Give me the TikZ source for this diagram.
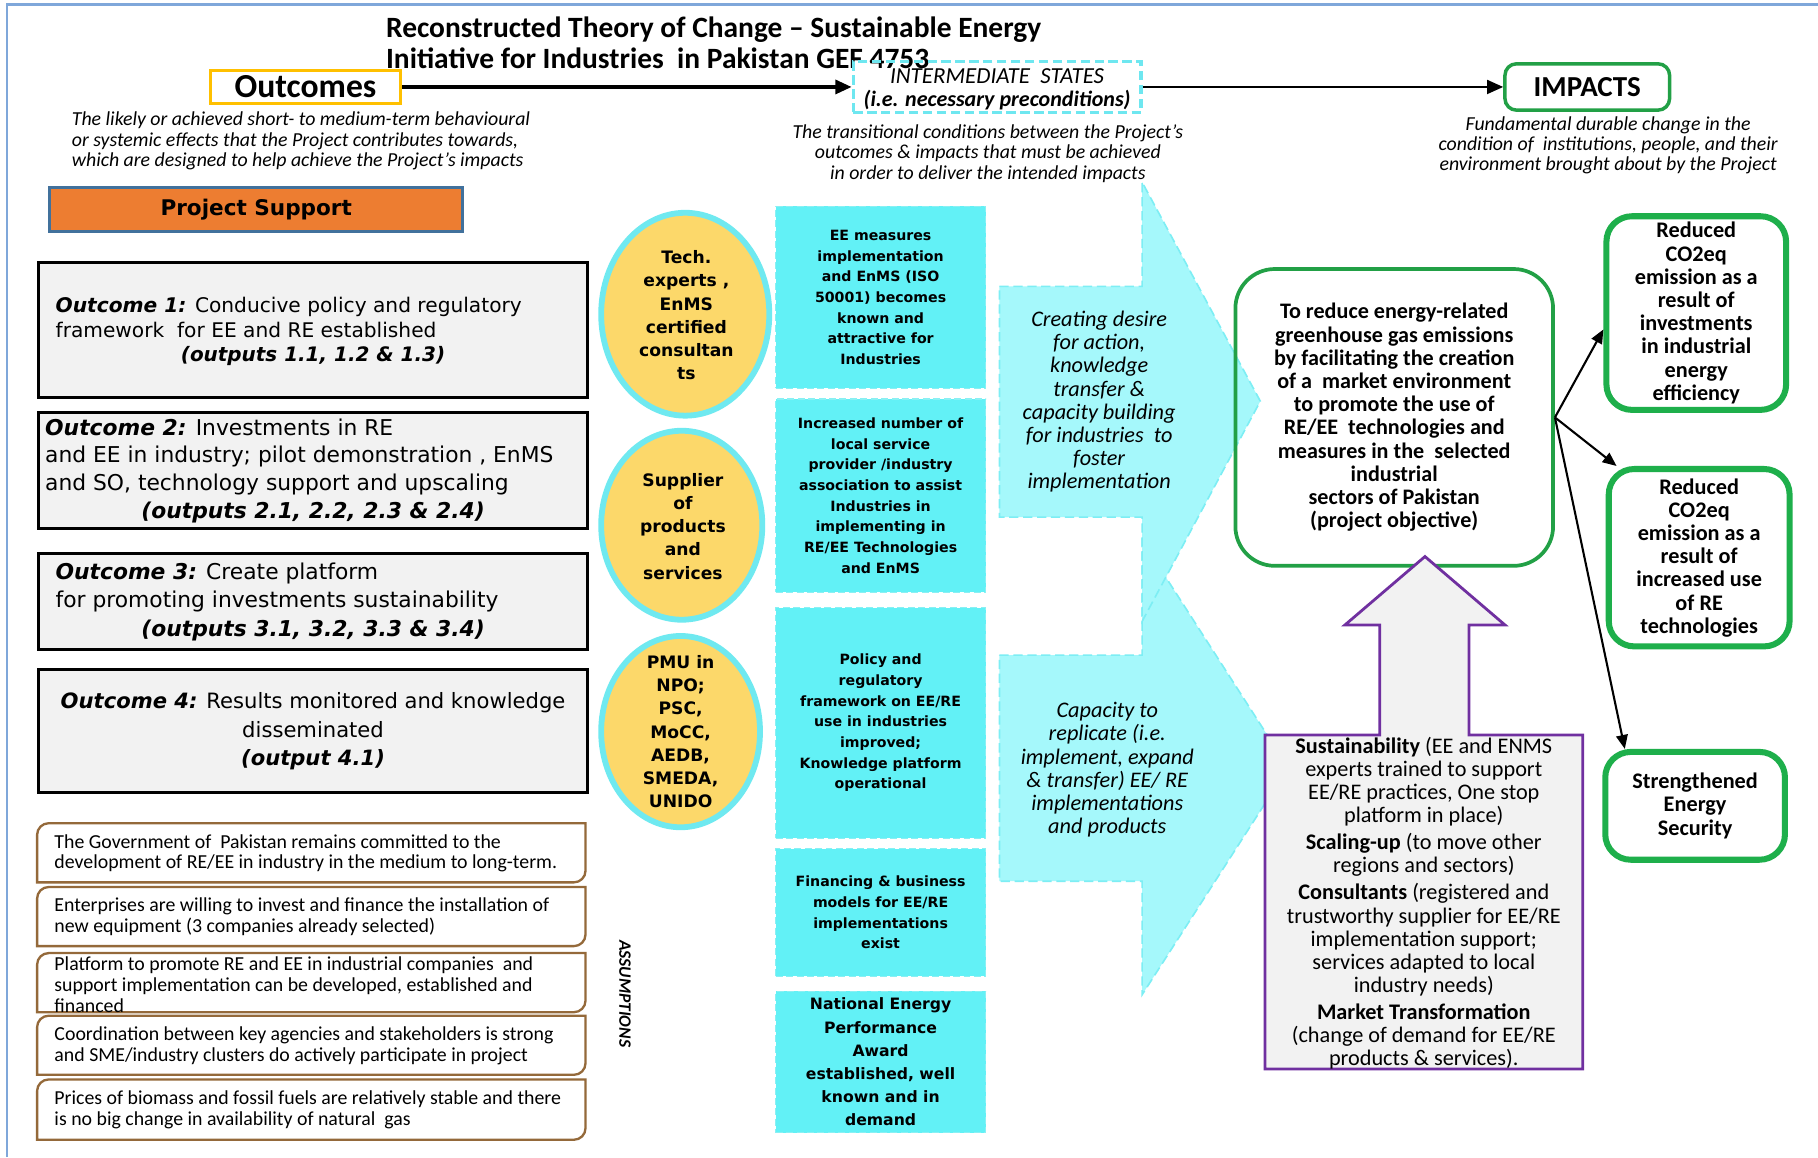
\documentclass[tikz,border=0pt]{standalone}
\usepackage{fontspec}
\setmainfont{Carlito}
\newfontfamily\dv{DejaVu Sans}
\usetikzlibrary{arrows.meta,shapes.geometric}
\definecolor{frameblue}{HTML}{7FA7DA}
\definecolor{outyellow}{HTML}{FFC000}
\definecolor{intcyan}{HTML}{6EE7F0}
\definecolor{green1}{HTML}{22A046}
\definecolor{green2}{HTML}{1EAF4B}
\definecolor{psorange}{HTML}{ED7D31}
\definecolor{psborder}{HTML}{41719C}
\definecolor{boxgray}{HTML}{F2F2F2}
\definecolor{asbrown}{HTML}{94693A}
\definecolor{circyellow}{HTML}{FCD86A}
\definecolor{circcyan}{HTML}{6FE9F0}
\definecolor{cfill}{HTML}{62F1F6}
\definecolor{cbord}{HTML}{8AF0F3}
\definecolor{arrfill}{HTML}{A5F8FB}
\definecolor{arrbord}{HTML}{7DEEF4}
\definecolor{purp}{HTML}{7030A0}
\newcommand\myfs[2]{\fontsize{#1}{#2}\selectfont}
\newcommand\asbox[2]{\draw[asm] (32,#1+10) arc[start angle=180,end angle=270,radius=10] -- (505,#1) -- (505,#2-10) arc[start angle=0,end angle=90,radius=10] -- (32,#2) -- cycle;}
\begin{document}
\begin{tikzpicture}[x=0.5pt,y=-0.5pt,
  txt/.style={inner sep=0pt,outer sep=0pt,align=center},
  desc/.style={txt,font=\itshape\myfs{8.55}{8.75}},
  obox/.style={draw=black,fill=boxgray,line width=1.3pt,minimum width=237pt,inner sep=0pt},
  otext/.style={txt,font=\dv\myfs{9.4}{12}},
  asm/.style={draw=asbrown,line width=1pt,fill=white},
  atext/.style={txt,align=left,anchor=west,font=\myfs{8.55}{9}},
  circ/.style={ellipse,draw=circcyan,line width=2.5pt,fill=circyellow,inner sep=0pt},
  ctext/.style={txt,font=\dv\bfseries\myfs{7.4}{10}},
  cbox/.style={draw=cbord,dashed,dash pattern=on 3pt off 1.5pt,fill=cfill,line width=0.6pt,minimum width=90.5pt,inner sep=0pt,align=center,font=\dv\bfseries\myfs{6.1}{8.9}},
  barrow/.style={fill=arrfill,draw=arrbord,dashed,dash pattern=on 4pt off 2pt,line width=0.7pt},
  arrtxt/.style={txt,font=\itshape\myfs{9.6}{10}},
  ibox/.style={draw=green2,line width=2.6pt,rounded corners=11pt,fill=white,inner sep=0pt,align=center,font=\bfseries\myfs{9.6}{10}},
  conn/.style={line width=0.9pt,-{Triangle[length=6pt,width=5pt]}}
]
\useasboundingbox (0,0) rectangle (1568,998);
\fill[white] (0,0) rectangle (1568,998);
\draw[frameblue,line width=1pt] (6,998) -- (6,4) -- (1568,4);

% title
\node[txt,anchor=base west,font=\bfseries\myfs{12.7}{14}] (t1) at (333,32) {Reconstructed Theory of Change – Sustainable Energy};
\node[txt,anchor=base west,font=\bfseries\myfs{12.7}{14}] (t2) at (333,59) {Initiative for Industries\ \ in Pakistan GEF 4753};

% header boxes
\node[draw=outyellow,line width=1.3pt,minimum width=82pt,minimum height=14pt,inner sep=0pt,font=\bfseries\myfs{14.5}{16}] (outc) at (263.5,75) {Outcomes};
\node[draw=intcyan,dashed,dash pattern=on 4pt off 2pt,line width=1.5pt,minimum width=124pt,minimum height=22pt,inner sep=0pt] (inter) at (860,75) {};
\node[txt,font=\itshape\myfs{9.5}{10}] (intert) at (860,77) {{\myfs{9.9}{10}INTERMEDIATE\ \ STATES}\\{\bfseries (i.e. necessary preconditions)}};
\node[draw=green1,line width=1.5pt,rounded corners=5pt,minimum width=71pt,minimum height=20pt,inner sep=0pt,font=\bfseries\myfs{12.5}{14}] (imp) at (1369,75) {IMPACTS};
\draw[line width=1.5pt,-{Triangle[length=7pt,width=6pt]}] (outc) -- (inter);
\draw[line width=1pt,-{Triangle[length=7pt,width=6pt]}] (inter) -- (imp);

\node[desc,anchor=west,align=left] (d1) at (62,121.5) {The likely or achieved short- to medium-term behavioural\\or systemic effects that the Project contributes towards,\\which are designed to help achieve the Project’s impacts};
\node[desc] (d2) at (852,132.5) {The transitional conditions between the Project’s\\outcomes \& impacts that must be achieved\\in order to deliver the intended impacts};
\node[desc] (d3) at (1387,125.5) {Fundamental durable change in the\\condition of\ \ institutions, people, and their\\environment brought about by the Project};

% project support
\node[draw=psborder,fill=psorange,line width=1.2pt,minimum width=178pt,minimum height=19pt,inner sep=0pt,font=\dv\bfseries\myfs{9.3}{11}] (ps) at (221,180.5) {Project Support};

% outcome boxes
\node[obox,minimum height=58.5pt] (o1) at (270,284.5) {};
\node[otext,anchor=west,align=left,font=\dv\myfs{8.7}{11}] (o1a) at (48,274) {\textbf{\textit{Outcome 1:}} Conducive policy and regulatory\\framework\ \ for EE and RE established};
\node[otext,font=\dv\bfseries\itshape\myfs{8.6}{11}] (o1b) at (270,307) {(outputs 1.1, 1.2 \& 1.3)};

\node[obox,minimum height=50pt] (o2) at (270,405.5) {};
\node[otext,anchor=west,align=left] (o2a) at (39,394) {\textbf{\textit{Outcome 2:}} Investments in RE\\and EE in industry; pilot demonstration , EnMS\\and SO, technology support and upscaling};
\node[otext,font=\dv\bfseries\itshape\myfs{9.4}{12}] (o2b) at (270,442) {(outputs 2.1, 2.2, 2.3 \& 2.4)};

\node[obox,minimum height=41.5pt] (o3) at (270,519) {};
\node[otext,anchor=west,align=left] (o3a) at (48,507) {\textbf{\textit{Outcome 3:}} Create platform\\for promoting investments sustainability};
\node[otext,font=\dv\bfseries\itshape\myfs{9.4}{12}] (o3b) at (270,544) {(outputs 3.1, 3.2, 3.3 \& 3.4)};

\node[obox,minimum height=53pt] (o4) at (270,630.5) {};
\node[otext,font=\dv\myfs{9.1}{12.3}] (o4a) at (270,631) {\textbf{\textit{Outcome 4:}} Results monitored and knowledge\\disseminated\\\textbf{\textit{(output 4.1)}}};

% assumptions
\asbox{710}{761}
\asbox{765}{816}
\asbox{822}{873}
\asbox{876}{927}
\asbox{931}{983}
\node[atext] (a1) at (47,736) {The Government of\ \ Pakistan remains committed to the\\development of RE/EE in industry in the medium to long-term.};
\node[atext] (a2) at (47,791) {Enterprises are willing to invest and finance the installation of\\new equipment (3 companies already selected)};
\node[atext] (a3) at (47,849) {Platform to promote RE and EE in industrial companies\ \ and\\support implementation can be developed, established and\\financed};
\node[atext] (a4) at (47,902) {Coordination between key agencies and stakeholders is strong\\and SME/industry clusters do actively participate in project};
\node[atext] (a5) at (47,957) {Prices of biomass and fossil fuels are relatively stable and there\\is no big change in availability of natural\ \ gas};
\node[txt,rotate=-90,font=\bfseries\itshape\myfs{7.5}{9}] (asl) at (539,857) {ASSUMPTIONS};

% circles
\node[circ,minimum width=72.5pt,minimum height=87.5pt] (c1) at (591,271) {};
\node[ctext] (c1t) at (592,272) {Tech.\\experts ,\\EnMS\\certified\\consultan\\ts};
\node[circ,minimum width=69.5pt,minimum height=81.5pt] (c2) at (588,453) {};
\node[ctext] (c2t) at (589,454) {Supplier\\of\\products\\and\\services};
\node[circ,minimum width=68.5pt,minimum height=82.5pt] (c3) at (587,631) {};
\node[ctext] (c3t) at (587,631) {PMU in\\NPO;\\PSC,\\MoCC,\\AEDB,\\SMEDA,\\UNIDO};

% cyan boxes
\node[cbox,minimum height=78.5pt] (b1) at (759.5,256.5) {EE measures\\implementation\\and EnMS (ISO\\50001) becomes\\known and\\attractive for\\Industries};
\node[cbox,minimum height=83.5pt] (b2) at (759.5,427.5) {Increased number of\\local service\\provider /industry\\association to assist\\Industries in\\implementing in\\RE/EE Technologies\\and EnMS};
\node[cbox,minimum height=99.5pt] (b3) at (759.5,623.5) {Policy and\\regulatory\\framework on EE/RE\\use in industries\\improved;\\Knowledge platform\\operational};
\node[cbox,minimum height=55pt] (b4) at (759.5,787) {Financing \& business\\models for EE/RE\\implementations\\exist};
\node[cbox,minimum height=61pt,font=\dv\bfseries\myfs{6.75}{10}] (b5) at (759.5,916) {National Energy\\Performance\\Award\\established, well\\known and in\\demand};

% big block arrows
\draw[barrow] (862,565) -- (985,565) -- (985,466) -- (1111,662) -- (985,858) -- (985,760) -- (862,760) -- cycle;
\draw[barrow] (862,247) -- (985,247) -- (985,157) -- (1087,346) -- (985,536) -- (985,446) -- (862,446) -- cycle;
\node[arrtxt] (ar1) at (948,346.5) {Creating desire\\for action,\\knowledge\\transfer \&\\capacity building\\for industries\ \ to\\foster\\implementation};
\node[arrtxt] (ar2) at (955,664) {Capacity to\\replicate (i.e.\\implement, expand\\\& transfer) EE/ RE\\implementations\\and products};

% objective
\node[draw=green1,line width=1.6pt,rounded corners=17pt,minimum width=137pt,minimum height=128pt,inner sep=0pt,align=center,font=\bfseries\myfs{9.55}{10}] (obj) at (1202.5,360) {To reduce energy-related\\greenhouse gas emissions\\by facilitating the creation\\of a\ \ market environment\\to promote the use of\\RE/EE\ \ technologies and\\measures in the\ \ selected\\industrial\\sectors of Pakistan\\(project objective)};

% purple arrow box
\draw[purp,line width=1.2pt,fill=boxgray] (1091,634) -- (1190,634) -- (1190,539) -- (1160,539) -- (1229,480) -- (1298,539) -- (1267,539) -- (1267,634) -- (1365,634) -- (1365,922) -- (1091,922) -- cycle;
\node[txt,font=\myfs{9.6}{10}] (pt) at (1228,779) {\textbf{Sustainability} (EE and ENMS\\experts trained to support\\EE/RE practices, One stop\\platform in place)\\[1.6pt]\textbf{Scaling-up} (to move other\\regions and sectors)\\[1.6pt]\textbf{Consultants} (registered and\\trustworthy supplier for EE/RE\\implementation support;\\services adapted to local\\industry needs)\\[1.6pt]\textbf{Market Transformation}\\(change of demand for EE/RE\\products \& services).};

% impact boxes
\node[ibox,minimum width=77.5pt,minimum height=83.5pt] (i1) at (1463,270) {Reduced\\CO2eq\\emission as a\\result of\\investments\\in industrial\\energy\\efficiency};
\node[ibox,minimum width=78pt,minimum height=76.5pt] (i2) at (1465.5,481) {Reduced\\CO2eq\\emission as a\\result of\\increased use\\of RE\\technologies};
\node[ibox,minimum width=77.5pt,minimum height=46.5pt] (i3) at (1462,695) {Strengthened\\Energy\\Security};

\draw[conn] (obj.east) -- (i1.190);
\draw[conn] (obj.east) -- (i2.132);
\draw[conn] (obj.east) -- (i3.141);
\end{tikzpicture}
\end{document}
